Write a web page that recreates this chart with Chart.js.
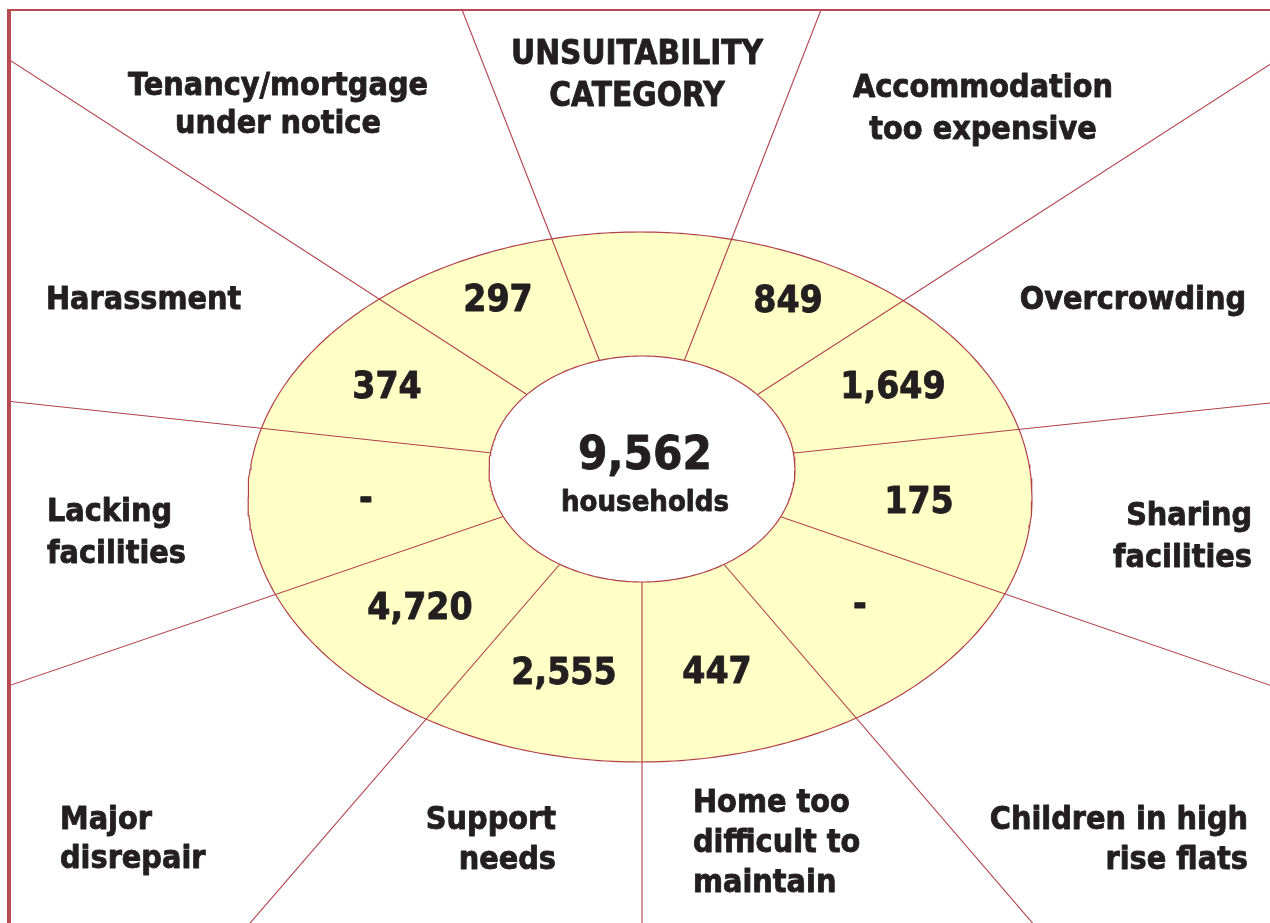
<!DOCTYPE html>
<html>
<head>
<meta charset="utf-8">
<title>Unsuitability category</title>
<script src="https://cdn.jsdelivr.net/npm/chart.js@4.4.1/dist/chart.umd.min.js"></script>
<style>
  html, body { margin: 0; padding: 0; background: #fff; overflow: hidden; }
  #wrap { position: absolute; left: 0; top: 0; width: 1270px; height: 923px; }
  /* the thick left rule and thin top rule round the diagram */
  #frame {
    position: absolute; left: 7px; top: 9px; width: 1263px; height: 914px;
    box-sizing: border-box; pointer-events: none;
    border-left: 4px solid #b94a53; border-top: 2px solid #b94a53;
  }
</style>
</head>
<body>
<div id="wrap"><canvas id="chart"></canvas></div>
<div id="frame"></div>
<script>
// Categories, clockwise starting from the sector right of the header
const categories = [
  ["Accommodation", "too expensive"],
  ["Overcrowding"],
  ["Sharing", "facilities"],
  ["Children in high", "rise flats"],
  ["Home too", "difficult to", "maintain"],
  ["Support", "needs"],
  ["Major", "disrepair"],
  ["Lacking", "facilities"],
  ["Harassment"],
  ["Tenancy/mortgage", "under notice"],
];

// Households in each category (null = shown as "-")
const households = [849, 1649, 175, null, 447, 2555, 4720, null, 374, 297];

const totalHouseholds = 9562;
const totalLabel = "households";
const headerLines = ["UNSUITABILITY", "CATEGORY"];

// ---- layout (page pixels, y downwards) ----
const hub = { x: 642, y: 469 }; // where the divider lines meet
const outerRing = { cx: 640, cy: 497, rx: 392, ry: 265 };
const innerRing = { cx: 642, cy: 469, rx: 153, ry: 113 };
// divider directions, degrees clockwise from 12 o'clock
const dividerAngles = [21.3, 57.2, 84, 109, 139.3, 180, 220.8, 251.1, 276.1, 302.9, 338.6];

// label anchors (baseline of first line), same order as categories
const labelSpots = [
  { x: 983, y: 97, align: "center", gap: 42 },
  { x: 1246, y: 309, align: "right", gap: 40 },
  { x: 1252, y: 525, align: "right", gap: 42 },
  { x: 1248, y: 829, align: "right", gap: 40 },
  { x: 693, y: 812, align: "left", gap: 40 },
  { x: 556, y: 829, align: "right", gap: 40 },
  { x: 60, y: 829, align: "left", gap: 39 },
  { x: 47, y: 521, align: "left", gap: 42 },
  { x: 46, y: 309, align: "left", gap: 40 },
  { x: 278, y: 95, align: "center", gap: 38 },
];
const valueSpots = [
  { x: 788, y: 312 }, { x: 893, y: 398 }, { x: 919, y: 513 }, { x: 860, y: 616 },
  { x: 717, y: 683 }, { x: 564, y: 684 }, { x: 420, y: 619 }, { x: 366, y: 510 },
  { x: 387, y: 398 }, { x: 498, y: 311 },
];
const headerSpot = { x: 637, y: 64, gap: 42 };
const totalSpot = { x: 645, y: 469 };
const totalLabelSpot = { x: 645, y: 511 };

const lineColor = "#b0404c";
const textColor = "#231f20";
const ringFill = "#ffffc6";
const fontFamily = "'DejaVu Sans', Verdana, sans-serif";
const squeeze = 0.9; // narrows DejaVu Bold towards Tahoma Bold
const thicken = 0.9; // extra stroke round the glyphs, Tahoma Bold is heavy

// half of an ellipse as a left-to-right polyline (side -1 = top, 1 = bottom)
function halfEllipse(ring, side) {
  const pts = [];
  for (let i = 0; i <= 180; i++) {
    const t = (Math.PI * i) / 180;
    pts.push({ x: ring.cx - ring.rx * Math.cos(t), y: ring.cy + side * ring.ry * Math.sin(t) });
  }
  return pts;
}

// filled half, no outline (the outline is a separate closed loop)
function ringHalf(ring, side, fill, order) {
  return {
    data: halfEllipse(ring, side),
    showLine: true,
    borderWidth: 0,
    borderColor: "rgba(0,0,0,0)",
    backgroundColor: fill,
    fill: { value: ring.cy },
    pointRadius: 0,
    order: order,
  };
}

function ringOutline(ring, order) {
  const pts = halfEllipse(ring, -1).concat(halfEllipse(ring, 1).reverse());
  return {
    data: pts,
    showLine: true,
    borderColor: lineColor,
    borderWidth: 1.2,
    fill: false,
    pointRadius: 0,
    order: order,
  };
}

const dividerSets = dividerAngles.map((deg) => {
  const a = (deg * Math.PI) / 180;
  return {
    data: [hub, { x: hub.x + 1500 * Math.sin(a), y: hub.y - 1500 * Math.cos(a) }],
    showLine: true,
    borderColor: lineColor,
    borderWidth: 1.1,
    fill: false,
    pointRadius: 0,
    order: 2,
  };
});

function fmt(n) {
  return n == null ? "-" : n.toLocaleString("en-GB");
}

// write text narrowed horizontally, anchored at (x, y) on the baseline
function squeezedText(ctx, text, x, y, align) {
  ctx.save();
  ctx.translate(x, y);
  ctx.scale(squeeze, 1);
  ctx.textAlign = align;
  ctx.fillText(text, 0, 0);
  ctx.strokeText(text, 0, 0);
  ctx.restore();
}

const textPlugin = {
  id: "diagramText",
  afterDatasetsDraw(chart) {
    const ctx = chart.ctx;
    const xs = chart.scales.x;
    const ys = chart.scales.y;
    const px = (v) => xs.getPixelForValue(v);
    const py = (v) => ys.getPixelForValue(v);
    ctx.save();
    ctx.fillStyle = textColor;
    ctx.strokeStyle = textColor;
    ctx.lineWidth = thicken;
    ctx.lineJoin = "round";
    ctx.textBaseline = "alphabetic";

    ctx.font = "bold 33px " + fontFamily;
    headerLines.forEach((line, i) => {
      squeezedText(ctx, line, px(headerSpot.x), py(headerSpot.y + i * headerSpot.gap), "center");
    });
    ctx.font = "bold 32px " + fontFamily;
    categories.forEach((lines, k) => {
      const s = labelSpots[k];
      lines.forEach((line, i) => {
        squeezedText(ctx, line, px(s.x), py(s.y + i * s.gap), s.align);
      });
    });

    ctx.font = "bold 37px " + fontFamily;
    households.forEach((n, k) => {
      const s = valueSpots[k];
      squeezedText(ctx, fmt(n), px(s.x), py(s.y), "center");
    });

    ctx.font = "bold 47px " + fontFamily;
    squeezedText(ctx, fmt(totalHouseholds), px(totalSpot.x), py(totalSpot.y), "center");
    ctx.font = "bold 29px " + fontFamily;
    squeezedText(ctx, totalLabel, px(totalLabelSpot.x), py(totalLabelSpot.y), "center");
    ctx.restore();
  },
};

new Chart(document.getElementById("chart"), {
  type: "scatter",
  data: {
    datasets: [
      ringOutline(innerRing, 0),
      ringHalf(innerRing, -1, "#ffffff", 1),
      ringHalf(innerRing, 1, "#ffffff", 1),
      ...dividerSets,
      ringOutline(outerRing, 3),
      ringHalf(outerRing, -1, ringFill, 4),
      ringHalf(outerRing, 1, ringFill, 4),
    ],
  },
  options: {
    responsive: true,
    maintainAspectRatio: false,
    animation: false,
    events: [],
    layout: { padding: { left: 11, top: 11, right: 0, bottom: 0 } },
    scales: {
      x: { type: "linear", min: 11, max: 1270, display: false },
      y: { type: "linear", min: 11, max: 923, reverse: true, display: false },
    },
    plugins: {
      legend: { display: false },
      tooltip: { enabled: false },
    },
  },
  plugins: [textPlugin],
});
</script>
</body>
</html>
